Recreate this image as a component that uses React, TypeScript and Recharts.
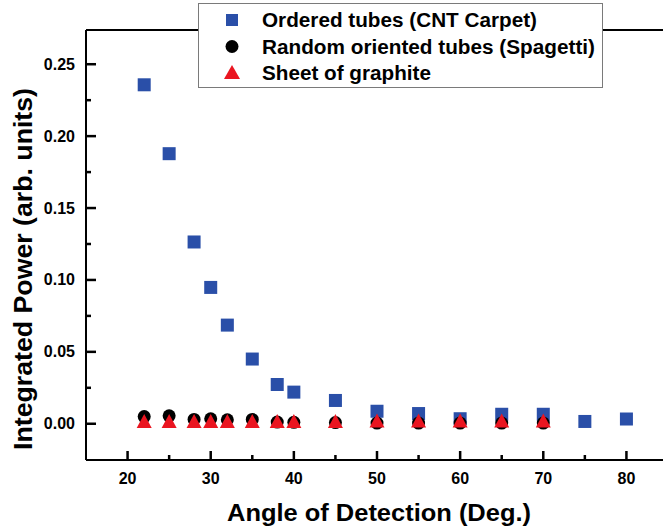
import React from 'react';
import { ScatterChart, Scatter, XAxis, YAxis, Legend, Label } from 'recharts';

const cntAngles = [22, 25, 28, 30, 32, 35, 38, 40, 45, 50, 55, 60, 65, 70, 75, 80];
const cntPower = [0.2357, 0.1878, 0.1264, 0.0948, 0.0686, 0.045, 0.0273, 0.022, 0.0162, 0.0087, 0.0071, 0.0035, 0.0066, 0.0066, 0.0016, 0.0033];

const randomAngles = [22, 25, 28, 30, 32, 35, 38, 40, 45, 50, 55, 60, 65, 70];
const randomPower = [0.005, 0.0055, 0.003, 0.0035, 0.0028, 0.003, 0.0012, 0.001, 0.0008, 0.0005, 0.0005, 0.0005, 0.0005, 0.0005];

const graphiteAngles = [22, 25, 28, 30, 32, 35, 38, 40, 45, 50, 55, 60, 65, 70];
const graphitePower = [0.0012, 0.0012, 0.0012, 0.0012, 0.0012, 0.0012, 0.0012, 0.0012, 0.0012, 0.0015, 0.0015, 0.0015, 0.0015, 0.0015];

const xTicks = [20, 25, 30, 35, 40, 45, 50, 55, 60, 65, 70, 75, 80];
const yTicks = [0, 0.025, 0.05, 0.075, 0.1, 0.125, 0.15, 0.175, 0.2, 0.225, 0.25];

const seriesNames = ['Ordered tubes (CNT Carpet)', 'Random oriented tubes (Spagetti)', 'Sheet of graphite'];
const xTitle = 'Angle of Detection (Deg.)';
const yTitle = 'Integrated Power (arb. units)';

const BLUE = '#2a4fa8';
const RED = '#ea1520';
const BLACK = '#000000';
const TICK = '#000000';
const FONT = '"Liberation Sans", Arial, Helvetica, sans-serif';

const cntData = cntAngles.map((a, i) => ({ angle: a, power: cntPower[i] }));
const randomData = randomAngles.map((a, i) => ({ angle: a, power: randomPower[i] }));
const graphiteData = graphiteAngles.map((a, i) => ({ angle: a, power: graphitePower[i] }));

const SquareShape = (p: any) => <rect x={p.cx - 6.5} y={p.cy - 6.5} width={13} height={13} fill={BLUE} />;
const CircleShape = (p: any) => <circle cx={p.cx} cy={p.cy} r={6.5} fill={BLACK} />;
const TriShape = (p: any) => (
  <polygon points={`${p.cx},${p.cy - 8} ${p.cx - 7.5},${p.cy + 6} ${p.cx + 7.5},${p.cy + 6}`} fill={RED} />
);

const isMajorX = (v: number) => Math.abs(v % 10) < 1e-6;
const isMajorY = (v: number) => Math.abs(Math.round(v / 0.05) * 0.05 - v) < 1e-6;

const BottomTick = (props: any) => {
  const { x, y, payload } = props;
  const major = isMajorX(payload.value);
  const len = major ? 9 : 5;
  return (
    <g>
      <rect x={x - 1.25} y={y - len} width={2.5} height={len} fill={TICK} />
      {major && (
        <text x={x} y={y + 18} textAnchor="middle" dominantBaseline="central" fontFamily={FONT} fontWeight="bold" fontSize={16} fill="#000">
          {payload.value}
        </text>
      )}
    </g>
  );
};

const TopTick = (props: any) => {
  const { x, y, payload } = props;
  const major = isMajorX(payload.value);
  const len = major ? 9 : 5;
  return <rect x={x - 1.25} y={y} width={2.5} height={len} fill={TICK} />;
};

const LeftTick = (props: any) => {
  const { x, y, payload } = props;
  const major = isMajorY(payload.value);
  const len = major ? 10 : 5;
  return (
    <g>
      <rect x={x} y={y - 1.25} width={len} height={2.5} fill={TICK} />
      {major && (
        <text x={x - 11} y={y} textAnchor="end" dominantBaseline="central" fontFamily={FONT} fontWeight="bold" fontSize={16} fill="#000">
          {payload.value.toFixed(2)}
        </text>
      )}
    </g>
  );
};

const RightTick = (props: any) => {
  const { x, y, payload } = props;
  const major = isMajorY(payload.value);
  const len = major ? 10 : 5;
  return <rect x={x - len} y={y - 1.25} width={len} height={2.5} fill={TICK} />;
};

const legendTextLengths = [275, 333, 169];

const LegendBox = () => {
  const rows = [
    { name: seriesNames[0], kind: 'square' },
    { name: seriesNames[1], kind: 'circle' },
    { name: seriesNames[2], kind: 'tri' },
  ];
  return (
    <svg width={405} height={85} style={{ display: 'block' }}>
      <rect x={0.5} y={0.5} width={404} height={84} fill="#fff" stroke="#7a7a7a" strokeWidth={1} />
      {rows.map((r, i) => {
        const cy = 17 + i * 26.5;
        const cx = 34;
        return (
          <g key={r.name}>
            {r.kind === 'square' && <rect x={cx - 6} y={cy - 6} width={12} height={12} fill={BLUE} />}
            {r.kind === 'circle' && <circle cx={cx} cy={cy} r={6.5} fill={BLACK} />}
            {r.kind === 'tri' && <polygon points={`${cx},${cy - 8} ${cx - 8},${cy + 6} ${cx + 8},${cy + 6}`} fill={RED} />}
            <text x={64} y={cy} dominantBaseline="central" fontFamily={FONT} fontWeight="bold" fontSize={19.5} fill="#000" textLength={legendTextLengths[i]} lengthAdjust="spacingAndGlyphs">
              {r.name}
            </text>
          </g>
        );
      })}
    </svg>
  );
};

const XTitle = (lp: any) => {
  const vb = lp.viewBox;
  return (
    <text x={vb.x + vb.width / 2 + 2} y={vb.y + 52} textAnchor="middle" dominantBaseline="central" fontFamily={FONT} fontWeight="bold" fontSize={24} fill="#000" textLength={304} lengthAdjust="spacingAndGlyphs">
      {xTitle}
    </text>
  );
};

const YTitle = (lp: any) => {
  const vb = lp.viewBox;
  const cx = vb.x + 23;
  const cy = vb.y + vb.height / 2 + 24;
  return (
    <text x={cx} y={cy} transform={`rotate(-90 ${cx} ${cy})`} textAnchor="middle" dominantBaseline="central" fontFamily={FONT} fontWeight="bold" fontSize={25} fill="#000" textLength={362} lengthAdjust="spacingAndGlyphs">
      {yTitle}
    </text>
  );
};

export default function App() {
  return (
    <div style={{ position: 'fixed', left: 0, top: 0, width: 663, height: 532, overflow: 'hidden', background: '#fff' }}>
      <ScatterChart width={680} height={532} margin={{ top: 0, right: 0, bottom: 0, left: 0 }}>
        <XAxis xAxisId="bottom" orientation="bottom" type="number" dataKey="angle" domain={[15, 85]} ticks={xTicks} interval={0} height={72} tickSize={0} tickMargin={0} tickLine={false} axisLine={{ stroke: '#000', strokeWidth: 2 }} tick={BottomTick}>
          <Label content={XTitle} />
        </XAxis>
        <XAxis xAxisId="top" orientation="top" type="number" domain={[15, 85]} ticks={xTicks} interval={0} height={30} tickSize={0} tickMargin={0} tickLine={false} axisLine={{ stroke: '#000', strokeWidth: 2 }} tick={TopTick} />
        <YAxis yAxisId="left" orientation="left" type="number" dataKey="power" domain={[-0.0252, 0.2738]} ticks={yTicks} interval={0} width={86} tickSize={0} tickMargin={0} tickLine={false} axisLine={{ stroke: '#000', strokeWidth: 2 }} tick={LeftTick}>
          <Label content={YTitle} />
        </YAxis>
        <YAxis yAxisId="right" orientation="right" type="number" domain={[-0.0252, 0.2738]} ticks={yTicks} interval={0} width={12} tickSize={0} tickMargin={0} tickLine={false} axisLine={{ stroke: '#000', strokeWidth: 2 }} tick={RightTick} />
        <Scatter name={seriesNames[0]} data={cntData} xAxisId="bottom" yAxisId="left" shape={SquareShape} isAnimationActive={false} />
        <Scatter name={seriesNames[1]} data={randomData} xAxisId="bottom" yAxisId="left" shape={CircleShape} isAnimationActive={false} />
        <Scatter name={seriesNames[2]} data={graphiteData} xAxisId="bottom" yAxisId="left" shape={TriShape} isAnimationActive={false} />
        <Legend layout="horizontal" verticalAlign="middle" align="center" content={() => <LegendBox />} wrapperStyle={{ position: 'absolute', left: 198, top: 3, width: 405, height: 85, margin: 0, padding: 0 }} />
      </ScatterChart>
    </div>
  );
}
